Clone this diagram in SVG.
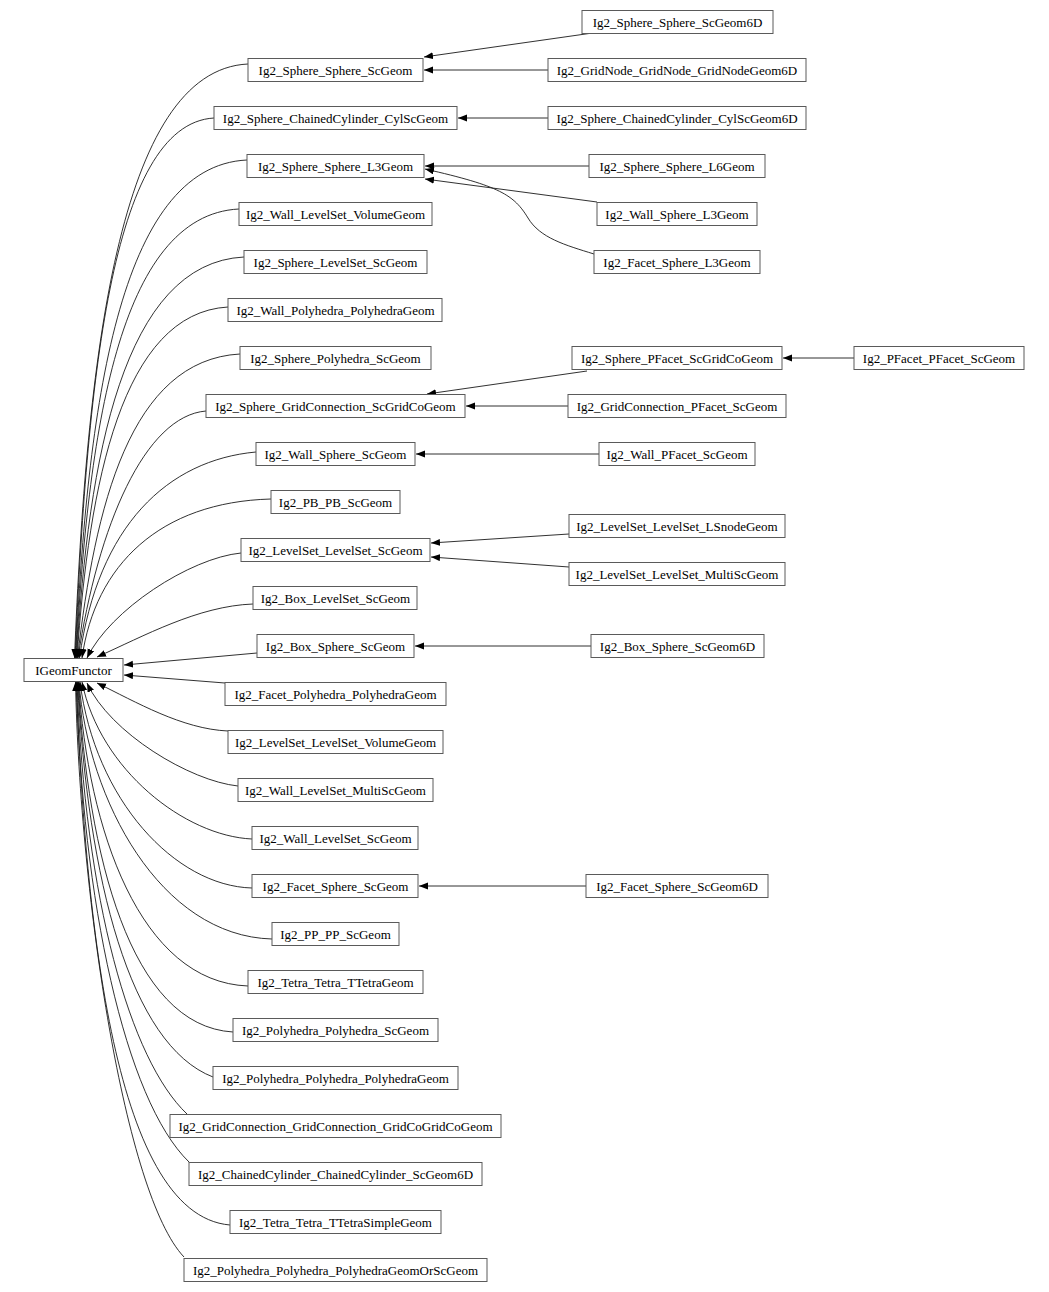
<svg xmlns="http://www.w3.org/2000/svg" width="1049" height="1292" viewBox="0 0 1049 1292">
<style>
.n rect{fill:#fff;stroke:#5a5a5a;stroke-width:1}
.n text{font-family:"Liberation Serif","Times New Roman",serif;font-size:13px;fill:#000;text-anchor:middle}
.e path{fill:none;stroke:#1a1a1a;stroke-width:0.9;marker-end:url(#arr)}
</style>
<defs>
<marker id="arr" markerUnits="userSpaceOnUse" markerWidth="10" markerHeight="8" refX="9" refY="3.5" orient="auto">
<path d="M0,0 L9,3.5 L0,7 z" fill="#000" stroke="none"/>
</marker>
</defs>
<rect width="1049" height="1292" fill="#fff"/>
<g id="connectors" class="e">
<path d="M248,64 C118,70 86.5,361 74.5,658"/>
<path d="M214,118 C110,124 87,388 75,658"/>
<path d="M247,160 C118,166 87.5,409 75.5,658"/>
<path d="M239,209 C118,215 88,434 76,658"/>
<path d="M244,257 C123,263 88.5,458 76.5,658"/>
<path d="M228,307 C122,313 89,483 77,658"/>
<path d="M240,354 C130,360 95,506 77.5,658"/>
<path d="M206,411 C145,416 98,525 78,658"/>
<path d="M256,452 C168,460 98,525 79.5,658"/>
<path d="M271,499 C160,502 95,565 82,658"/>
<path d="M241,553 C190,558 110,610 87,658"/>
<path d="M253,604 C198,606 144,636 97,657"/>
<path d="M257,653 L124,665"/>
<path d="M225,683 L124,675"/>
<path d="M228,731 C182,729 136,702 97,683"/>
<path d="M238,786 C190,781 110,733 87,683"/>
<path d="M252,839 C185,836 100,770 82,682"/>
<path d="M252,888 C175,886 95,800 80,682"/>
<path d="M272,939 C160,936 88,800 79,682"/>
<path d="M248,986 C140,982 88,830 78.5,682"/>
<path d="M233,1032 C130,1026 88,855 78,682"/>
<path d="M213,1077 C130,1045 88,880 77.5,682"/>
<path d="M187,1114 C130,1060 85,900 77,682"/>
<path d="M189,1162 C125,1100 82,900 76.5,682"/>
<path d="M230,1225 C110,1215 85,900 76,682"/>
<path d="M184,1257 C125,1195 80,900 75.5,682"/>
<path d="M589,33.5 L424,57"/>
<path d="M548,70 L424,70"/>
<path d="M548,118 L458,118"/>
<path d="M589,166 L425,166"/>
<path d="M597,202 L425,179"/>
<path d="M594,254 C565,245 540,238 528,218 C514,195 500,186 425,169"/>
<path d="M854,358 L783,358"/>
<path d="M587,371 L427,394"/>
<path d="M568,406 L466,406"/>
<path d="M599,454 L416,454"/>
<path d="M569,534 L431,543"/>
<path d="M569,567 L431,557"/>
<path d="M591,646 L415,646"/>
<path d="M586,886 L419,886"/>
</g>
<g id="n_IGeomFunctor" class="n"><rect x="24" y="658.5" width="99" height="23"/><text x="73.5" y="674.5">IGeomFunctor</text></g>
<g id="n_Sphere_Sphere_ScGeom" class="n"><rect x="248" y="58.5" width="175" height="23"/><text x="335.5" y="74.5">Ig2_Sphere_Sphere_ScGeom</text></g>
<g id="n_Sphere_ChainedCylinder_CylScGeom" class="n"><rect x="214" y="106.5" width="243" height="23"/><text x="335.5" y="122.5">Ig2_Sphere_ChainedCylinder_CylScGeom</text></g>
<g id="n_Sphere_Sphere_L3Geom" class="n"><rect x="247" y="154.5" width="177" height="23"/><text x="335.5" y="170.5">Ig2_Sphere_Sphere_L3Geom</text></g>
<g id="n_Wall_LevelSet_VolumeGeom" class="n"><rect x="239" y="202.5" width="193" height="23"/><text x="335.5" y="218.5">Ig2_Wall_LevelSet_VolumeGeom</text></g>
<g id="n_Sphere_LevelSet_ScGeom" class="n"><rect x="244" y="250.5" width="183" height="23"/><text x="335.5" y="266.5">Ig2_Sphere_LevelSet_ScGeom</text></g>
<g id="n_Wall_Polyhedra_PolyhedraGeom" class="n"><rect x="228" y="298.5" width="214" height="23"/><text x="335.5" y="314.5">Ig2_Wall_Polyhedra_PolyhedraGeom</text></g>
<g id="n_Sphere_Polyhedra_ScGeom" class="n"><rect x="240" y="346.5" width="191" height="23"/><text x="335.5" y="362.5">Ig2_Sphere_Polyhedra_ScGeom</text></g>
<g id="n_Sphere_GridConnection_ScGridCoGeom" class="n"><rect x="206" y="394.5" width="259" height="23"/><text x="335.5" y="410.5">Ig2_Sphere_GridConnection_ScGridCoGeom</text></g>
<g id="n_Wall_Sphere_ScGeom" class="n"><rect x="256" y="442.5" width="159" height="23"/><text x="335.5" y="458.5">Ig2_Wall_Sphere_ScGeom</text></g>
<g id="n_PB_PB_ScGeom" class="n"><rect x="271" y="490.5" width="129" height="23"/><text x="335.5" y="506.5">Ig2_PB_PB_ScGeom</text></g>
<g id="n_LevelSet_LevelSet_ScGeom" class="n"><rect x="241" y="538.5" width="189" height="23"/><text x="335.5" y="554.5">Ig2_LevelSet_LevelSet_ScGeom</text></g>
<g id="n_Box_LevelSet_ScGeom" class="n"><rect x="253" y="586.5" width="164" height="23"/><text x="335.5" y="602.5">Ig2_Box_LevelSet_ScGeom</text></g>
<g id="n_Box_Sphere_ScGeom" class="n"><rect x="257" y="634.5" width="157" height="23"/><text x="335.5" y="650.5">Ig2_Box_Sphere_ScGeom</text></g>
<g id="n_Facet_Polyhedra_PolyhedraGeom" class="n"><rect x="225" y="682.5" width="221" height="23"/><text x="335.5" y="698.5">Ig2_Facet_Polyhedra_PolyhedraGeom</text></g>
<g id="n_LevelSet_LevelSet_VolumeGeom" class="n"><rect x="228" y="730.5" width="215" height="23"/><text x="335.5" y="746.5">Ig2_LevelSet_LevelSet_VolumeGeom</text></g>
<g id="n_Wall_LevelSet_MultiScGeom" class="n"><rect x="238" y="778.5" width="195" height="23"/><text x="335.5" y="794.5">Ig2_Wall_LevelSet_MultiScGeom</text></g>
<g id="n_Wall_LevelSet_ScGeom" class="n"><rect x="252" y="826.5" width="166" height="23"/><text x="335.5" y="842.5">Ig2_Wall_LevelSet_ScGeom</text></g>
<g id="n_Facet_Sphere_ScGeom" class="n"><rect x="252" y="874.5" width="166" height="23"/><text x="335.5" y="890.5">Ig2_Facet_Sphere_ScGeom</text></g>
<g id="n_PP_PP_ScGeom" class="n"><rect x="272" y="922.5" width="127" height="23"/><text x="335.5" y="938.5">Ig2_PP_PP_ScGeom</text></g>
<g id="n_Tetra_Tetra_TTetraGeom" class="n"><rect x="248" y="970.5" width="175" height="23"/><text x="335.5" y="986.5">Ig2_Tetra_Tetra_TTetraGeom</text></g>
<g id="n_Polyhedra_Polyhedra_ScGeom" class="n"><rect x="233" y="1018.5" width="205" height="23"/><text x="335.5" y="1034.5">Ig2_Polyhedra_Polyhedra_ScGeom</text></g>
<g id="n_Polyhedra_Polyhedra_PolyhedraGeom" class="n"><rect x="213" y="1066.5" width="245" height="23"/><text x="335.5" y="1082.5">Ig2_Polyhedra_Polyhedra_PolyhedraGeom</text></g>
<g id="n_GridConnection_GridConnection_GridCoGridCoGeom" class="n"><rect x="170" y="1114.5" width="331" height="23"/><text x="335.5" y="1130.5">Ig2_GridConnection_GridConnection_GridCoGridCoGeom</text></g>
<g id="n_ChainedCylinder_ChainedCylinder_ScGeom6D" class="n"><rect x="189" y="1162.5" width="293" height="23"/><text x="335.5" y="1178.5">Ig2_ChainedCylinder_ChainedCylinder_ScGeom6D</text></g>
<g id="n_Tetra_Tetra_TTetraSimpleGeom" class="n"><rect x="230" y="1210.5" width="211" height="23"/><text x="335.5" y="1226.5">Ig2_Tetra_Tetra_TTetraSimpleGeom</text></g>
<g id="n_Polyhedra_Polyhedra_PolyhedraGeomOrScGeom" class="n"><rect x="184" y="1258.5" width="303" height="23"/><text x="335.5" y="1274.5">Ig2_Polyhedra_Polyhedra_PolyhedraGeomOrScGeom</text></g>
<g id="n_Sphere_Sphere_ScGeom6D" class="n"><rect x="582" y="10.5" width="191" height="23"/><text x="677.5" y="26.5">Ig2_Sphere_Sphere_ScGeom6D</text></g>
<g id="n_GridNode_GridNode_GridNodeGeom6D" class="n"><rect x="548" y="58.5" width="258" height="23"/><text x="677" y="74.5">Ig2_GridNode_GridNode_GridNodeGeom6D</text></g>
<g id="n_Sphere_ChainedCylinder_CylScGeom6D" class="n"><rect x="548" y="106.5" width="258" height="23"/><text x="677" y="122.5">Ig2_Sphere_ChainedCylinder_CylScGeom6D</text></g>
<g id="n_Sphere_Sphere_L6Geom" class="n"><rect x="589" y="154.5" width="176" height="23"/><text x="677" y="170.5">Ig2_Sphere_Sphere_L6Geom</text></g>
<g id="n_Wall_Sphere_L3Geom" class="n"><rect x="597" y="202.5" width="160" height="23"/><text x="677" y="218.5">Ig2_Wall_Sphere_L3Geom</text></g>
<g id="n_Facet_Sphere_L3Geom" class="n"><rect x="594" y="250.5" width="166" height="23"/><text x="677" y="266.5">Ig2_Facet_Sphere_L3Geom</text></g>
<g id="n_Sphere_PFacet_ScGridCoGeom" class="n"><rect x="572" y="346.5" width="210" height="23"/><text x="677" y="362.5">Ig2_Sphere_PFacet_ScGridCoGeom</text></g>
<g id="n_PFacet_PFacet_ScGeom" class="n"><rect x="854" y="346.5" width="170" height="23"/><text x="939" y="362.5">Ig2_PFacet_PFacet_ScGeom</text></g>
<g id="n_GridConnection_PFacet_ScGeom" class="n"><rect x="568" y="394.5" width="218" height="23"/><text x="677" y="410.5">Ig2_GridConnection_PFacet_ScGeom</text></g>
<g id="n_Wall_PFacet_ScGeom" class="n"><rect x="599" y="442.5" width="156" height="23"/><text x="677" y="458.5">Ig2_Wall_PFacet_ScGeom</text></g>
<g id="n_LevelSet_LevelSet_LSnodeGeom" class="n"><rect x="569" y="514.5" width="216" height="23"/><text x="677" y="530.5">Ig2_LevelSet_LevelSet_LSnodeGeom</text></g>
<g id="n_LevelSet_LevelSet_MultiScGeom" class="n"><rect x="569" y="562.5" width="216" height="23"/><text x="677" y="578.5">Ig2_LevelSet_LevelSet_MultiScGeom</text></g>
<g id="n_Box_Sphere_ScGeom6D" class="n"><rect x="591" y="634.5" width="173" height="23"/><text x="677.5" y="650.5">Ig2_Box_Sphere_ScGeom6D</text></g>
<g id="n_Facet_Sphere_ScGeom6D" class="n"><rect x="586" y="874.5" width="182" height="23"/><text x="677" y="890.5">Ig2_Facet_Sphere_ScGeom6D</text></g>
</svg>
